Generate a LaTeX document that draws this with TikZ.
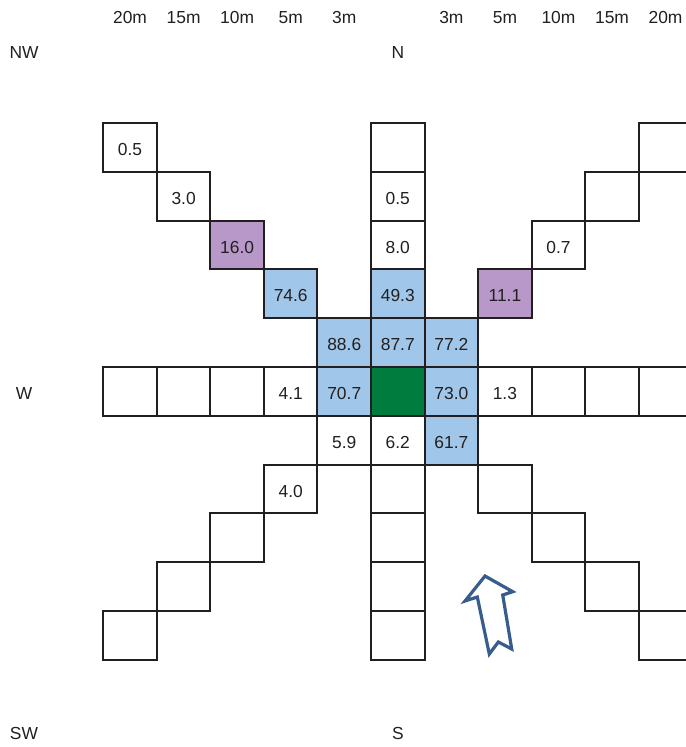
\documentclass[tikz,border=0pt]{standalone}
\usepackage{fontspec}
\setmainfont{Liberation Sans}
\usepackage{tikz}
\usetikzlibrary{positioning}

\definecolor{cellblue}{RGB}{160,199,234}
\definecolor{cellpurple}{RGB}{184,152,201}
\definecolor{cellgreen}{RGB}{0,124,62}
\definecolor{arrowblue}{RGB}{56,92,142}
\definecolor{gridline}{RGB}{35,31,32}

\begin{document}
\begin{tikzpicture}[x=0.5pt, y=-0.5pt,
    every node/.style={font=\fontsize{8.7}{10}\selectfont, text=gridline},
    cell/.style={draw=gridline, line width=1pt, minimum width=26.78pt,
        minimum height=24.4pt, inner sep=0pt, text height=8.2pt, text depth=0pt}]
    \useasboundingbox (0,0) rectangle (685,747);

    % Distance labels along the top
    \foreach \c/\d in {-5/20m, -4/15m, -3/10m, -2/5m, -1/3m, 1/3m, 2/5m, 3/10m, 4/15m, 5/20m}
        \node (dist\c) at ({397.8+53.55*\c}, 18) {\d};

    % Compass labels
    \node (nw) at (24, 53) {NW};
    \node (n) at (398, 53) {N};
    \node (w) at (24, 394) {W};
    \node (sw) at (24, 734) {SW};
    \node (s) at (398, 734) {S};

    % Empty cells
    \foreach \c/\r in {0/-5, 4/-4, 5/-5, -5/0, -4/0, -3/0, 3/0, 4/0, 5/0,
            0/2, 0/3, 0/4, 0/5, -3/3, -4/4, -5/5, 2/2, 3/3, 4/4, 5/5}
        \node[cell] (e\c\r) at ({397.8+53.55*\c}, {391.4+48.8*\r}) {};

    % Measured cells
    \foreach \c/\r/\v/\f [count=\i] in {
            -5/-5/0.5/white, -4/-4/3.0/white, -3/-3/16.0/cellpurple,
            -2/-2/74.6/cellblue, -1/-1/88.6/cellblue,
            0/-4/0.5/white, 0/-3/8.0/white, 0/-2/49.3/cellblue, 0/-1/87.7/cellblue,
            1/-1/77.2/cellblue, 2/-2/11.1/cellpurple, 3/-3/0.7/white,
            -2/0/4.1/white, -1/0/70.7/cellblue, 1/0/73.0/cellblue, 2/0/1.3/white,
            -1/1/5.9/white, 0/1/6.2/white, 1/1/61.7/cellblue, -2/2/4.0/white}
        \node[cell, fill=\f] (m\i) at ({397.8+53.55*\c}, {391.4+48.8*\r}) {\v};

    % Centre cell
    \node[cell, fill=cellgreen] (centre) at (397.8, 391.4) {};

    % Hollow wind arrow
    \draw[arrowblue, line width=1.6pt, line join=miter]
        (485,576) -- (512.7,591.7) -- (502.7,595) -- (511.7,649) -- (498.3,642)
        -- (489.3,654) -- (477.3,597) -- (465,601) -- cycle;
\end{tikzpicture}
\end{document}
